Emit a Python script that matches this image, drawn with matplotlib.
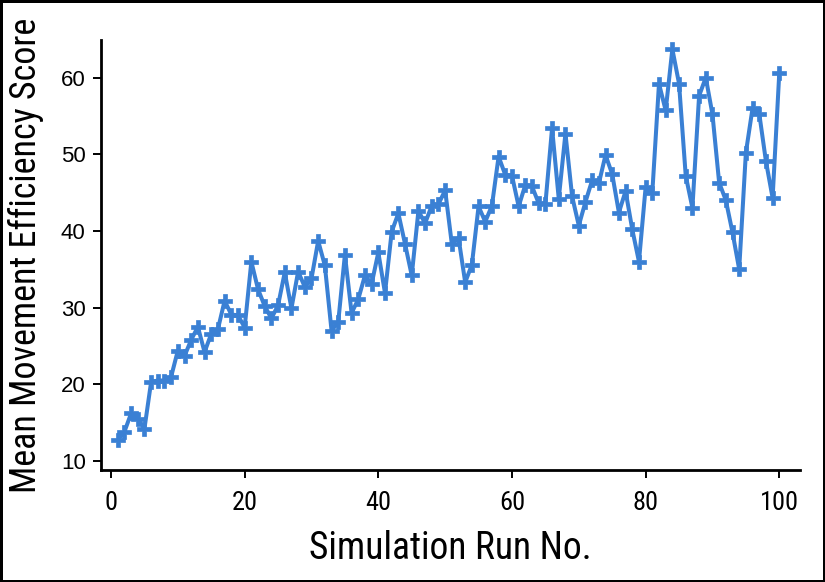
import matplotlib
matplotlib.use("Agg")
import matplotlib.pyplot as plt
from matplotlib import font_manager

runs = list(range(1, 101))
scores = [12.7, 13.8, 16.2, 15.5, 14.2, 20.3, 20.5, 20.5, 21.0, 24.4,
          23.7, 25.8, 27.5, 24.2, 26.6, 27.2, 30.9, 29.1, 29.0, 27.4,
          36.0, 32.4, 30.2, 28.6, 30.3, 34.6, 29.9, 34.7, 32.7, 33.8,
          38.7, 35.5, 27.0, 28.1, 36.9, 29.3, 31.1, 34.2, 33.1, 37.2,
          31.9, 39.9, 42.3, 38.3, 34.2, 42.6, 41.0, 43.3, 43.5, 45.3,
          38.3, 39.1, 33.3, 35.6, 43.2, 41.2, 43.3, 49.7, 47.3, 47.2,
          43.2, 46.0, 45.8, 43.6, 43.5, 53.4, 44.2, 52.7, 44.5, 40.7,
          43.8, 46.6, 46.2, 49.9, 47.4, 42.4, 45.2, 40.2, 36.0, 45.7,
          45.0, 59.2, 55.7, 63.7, 59.2, 47.2, 43.0, 57.6, 60.0, 55.2,
          46.3, 44.0, 39.8, 35.0, 50.2, 56.0, 55.3, 49.1, 44.3, 60.6]
xticks = [0, 20, 40, 60, 80, 100]
yticks = [10, 20, 30, 40, 50, 60]

names = {f.name for f in font_manager.fontManager.ttflist}
fam = [n for n in ["Liberation Sans Narrow", "Roboto Condensed", "Liberation Sans"] if n in names]
plt.rcParams['font.family'] = fam + ["DejaVu Sans"]
yfam = ["Liberation Sans", "DejaVu Sans"]

fig = plt.figure(figsize=(8.25, 5.82), dpi=100)
fig.patch.set_edgecolor("black")
fig.patch.set_linewidth(2.5)
ax = fig.add_axes([0.1224, 0.1924, 0.8473, 0.739])

color = "#3a80d4"
ax.plot(runs, scores, color=color, lw=2.9, marker="P", markersize=9.5,
        markerfacecolor=color, markeredgecolor=color, markeredgewidth=0.5)

ax.set_xlim(-1.5, 103.1)
ax.set_ylim(8.83, 64.9)
ax.set_xticks(xticks)
ax.set_yticks(yticks)
for s in ["top", "right"]:
    ax.spines[s].set_visible(False)
for s in ["left", "bottom"]:
    ax.spines[s].set_linewidth(2.0)
ax.tick_params(axis="both", direction="out", length=6, width=1.4)
ax.tick_params(axis="x", labelsize=19, pad=9)
ax.tick_params(axis="y", labelsize=16, pad=5)
for lab in ax.get_yticklabels():
    lab.set_family(yfam)
ax.set_xlabel("Simulation Run No.", fontsize=27, labelpad=11)
ax.set_ylabel("Mean Movement Efficiency Score", fontsize=26, labelpad=12)

fig.savefig("out.png", dpi=100, edgecolor=fig.get_edgecolor())
